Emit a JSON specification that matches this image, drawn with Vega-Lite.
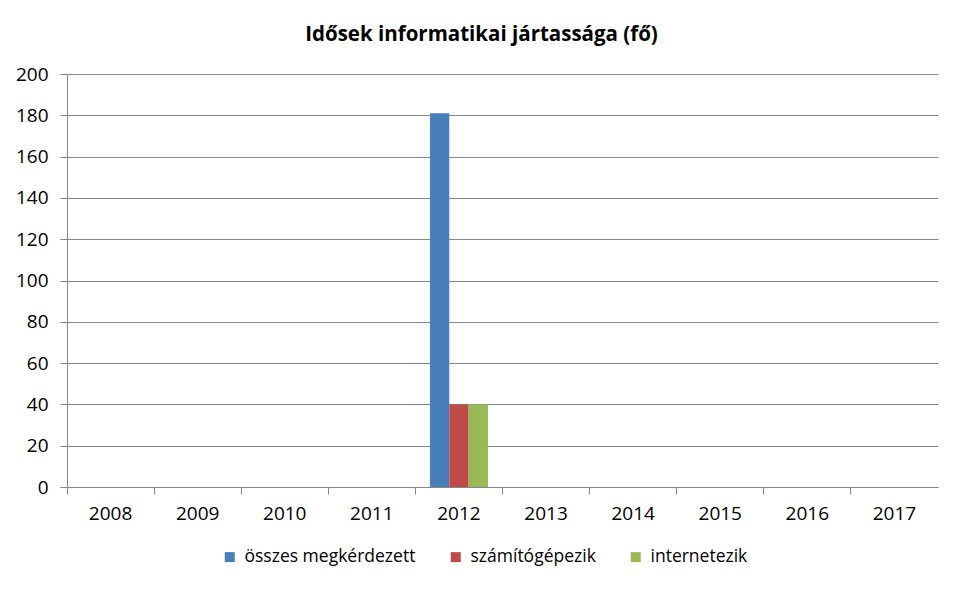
{
  "$schema": "https://vega.github.io/schema/vega-lite/v6.json",
  "autosize": "none",
  "width": 871,
  "height": 413,
  "padding": {"left": 67, "top": 74, "right": 25, "bottom": 104},
  "background": "white",
  "title": {
    "text": "Idősek informatikai jártassága (fő)",
    "font": "Open Sans",
    "fontSize": 20.5,
    "fontWeight": "bold",
    "color": "#000000",
    "anchor": "middle",
    "dx": -21,
    "offset": 20
  },
  "data": {
    "values": [
      {"year": "2012", "series": "összes megkérdezett", "value": 181},
      {"year": "2012", "series": "számítógépezik", "value": 40},
      {"year": "2012", "series": "internetezik", "value": 40}
    ]
  },
  "mark": {"type": "bar"},
  "encoding": {
    "x": {
      "field": "year",
      "type": "nominal",
      "scale": {
        "domain": ["2008", "2009", "2010", "2011", "2012", "2013", "2014", "2015", "2016", "2017"],
        "paddingInner": 0,
        "paddingOuter": 0
      },
      "axis": {
        "title": null,
        "labelAngle": 0,
        "bandPosition": 0,
        "labelFont": "Open Sans",
        "labelFontSize": 19,
        "labelColor": "#000000",
        "labelPadding": 10,
        "tickColor": "#868686",
        "tickSize": 7,
        "domainColor": "#868686",
        "grid": false
      }
    },
    "xOffset": {
      "field": "series",
      "type": "nominal",
      "sort": ["összes megkérdezett", "számítógépezik", "internetezik"],
      "scale": {"paddingInner": 0, "paddingOuter": 0.75}
    },
    "y": {
      "field": "value",
      "type": "quantitative",
      "scale": {"domain": [0, 200], "nice": false},
      "axis": {
        "title": null,
        "values": [0, 20, 40, 60, 80, 100, 120, 140, 160, 180, 200],
        "labelFont": "Open Sans",
        "labelFontSize": 19,
        "labelColor": "#000000",
        "labelPadding": 12,
        "tickColor": "#868686",
        "tickSize": 7,
        "domainColor": "#868686",
        "gridColor": "#868686",
        "grid": true
      }
    },
    "color": {
      "field": "series",
      "type": "nominal",
      "sort": ["összes megkérdezett", "számítógépezik", "internetezik"],
      "scale": {
        "domain": ["összes megkérdezett", "számítógépezik", "internetezik"],
        "range": ["#4A7EBB", "#BE4B48", "#98B954"]
      },
      "legend": {
        "title": null,
        "orient": "none",
        "direction": "horizontal",
        "legendX": 154,
        "legendY": 474,
        "symbolType": "square",
        "symbolSize": 100,
        "symbolStrokeWidth": 0,
        "labelFont": "Open Sans",
        "labelFontSize": 17.5,
        "labelLimit": 0,
        "labelColor": "#000000",
        "labelOffset": 6,
        "columnPadding": 31
      }
    }
  },
  "config": {
    "view": {"stroke": null}
  }
}
